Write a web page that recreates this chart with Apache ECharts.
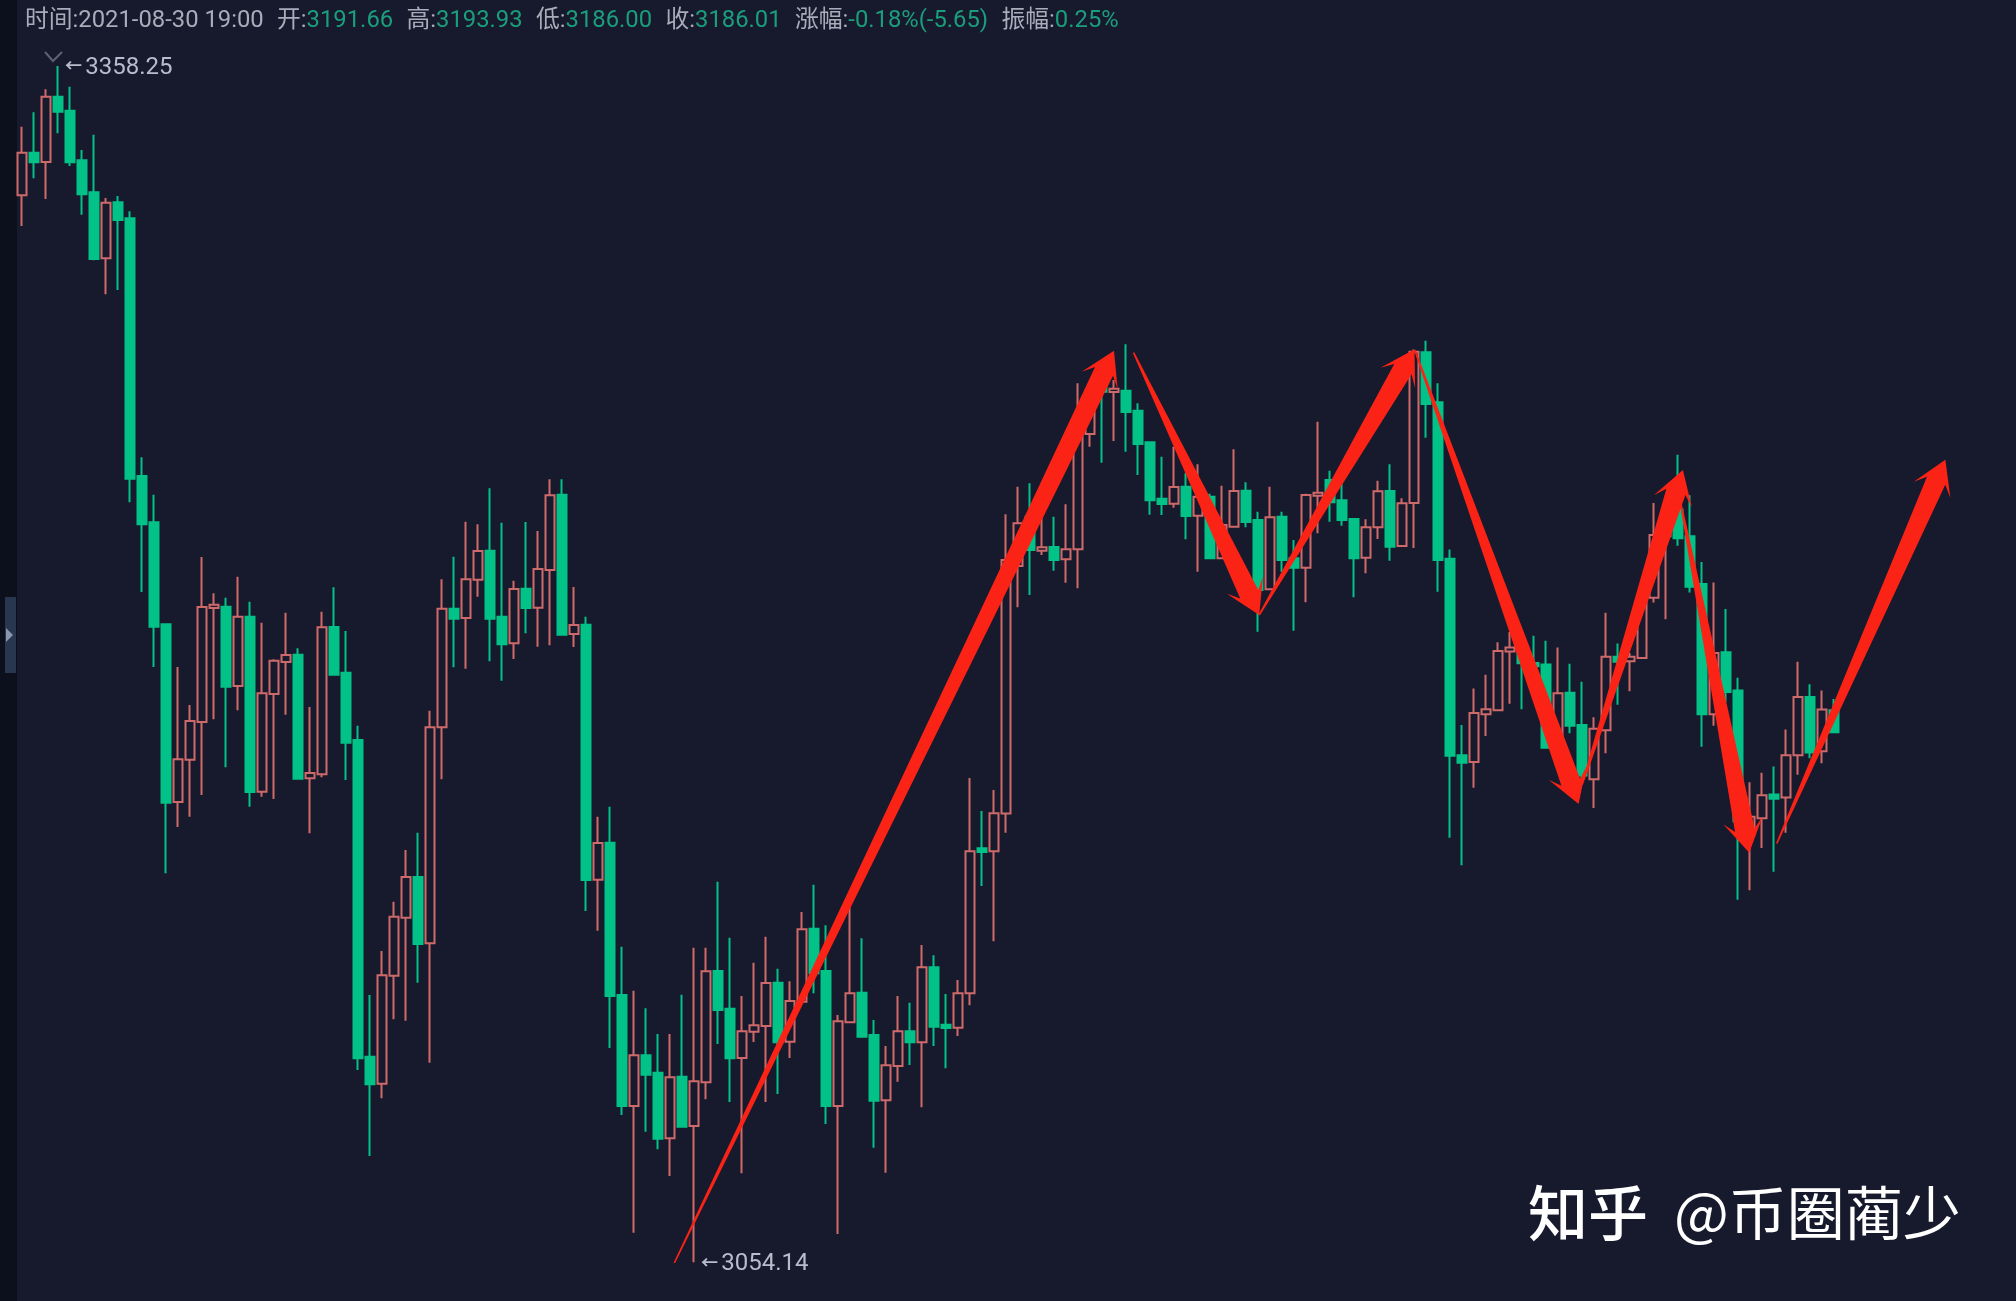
<!DOCTYPE html>
<html>
<head>
<meta charset="utf-8">
<title>K</title>
<style>
html, body { margin: 0; padding: 0; background: #171a2d; }
#main { width: 2016px; height: 1301px; }
</style>
<script src="https://cdn.jsdelivr.net/npm/echarts@6/dist/echarts.min.js"></script>
</head>
<body>
<div id="main"></div>
<script>
var opens = [
    3325.37, 3336.22, 3333.85, 3350.46, 3346.9, 3334.27, 3326.13, 3309.36, 3323.59, 3319.53,
    3254.02, 3242.25, 3216.31, 3171.15, 3181.91, 3191.49, 3220.47, 3220.81, 3200.64, 3218.26,
    3173.77, 3198.6, 3206.74, 3208.6, 3177.16, 3178.18, 3215.64, 3204.03, 3186.91, 3106.4,
    3099.54, 3127.0, 3141.74, 3152.08, 3135.22, 3190.13, 3220.3, 3217.92, 3227.67, 3235.04,
    3218.26, 3211.48, 3225.38, 3220.55, 3230.13, 3249.28, 3213.86, 3216.23, 3151.4, 3160.81,
    3122.08, 3093.86, 3106.74, 3102.34, 3085.64, 3101.32, 3088.78, 3099.88, 3128.18, 3118.61,
    3106.07, 3112.76, 3114.2, 3125.22, 3110.22, 3120.39, 3138.95, 3128.18, 3093.86, 3115.14,
    3122.68, 3111.91, 3095.3, 3104.03, 3112.85, 3110.05, 3129.12, 3114.54, 3113.78, 3122.51,
    3159.37, 3158.61, 3168.2, 3231.15, 3243.69, 3235.04, 3235.98, 3232.84, 3235.38, 3264.7,
    3276.74, 3275.38, 3275.72, 3270.63, 3262.58, 3248.26, 3246.99, 3251.31, 3243.94, 3248.77,
    3233.09, 3241.14, 3250.29, 3242.84, 3225.21, 3243.68, 3233.09, 3230.72, 3249.02, 3253.0,
    3247.84, 3243.09, 3233.26, 3240.97, 3250.21, 3236.23, 3247.16, 3285.46, 3272.75, 3233.0,
    3183.06, 3181.31, 3193.47, 3194.44, 3209.43, 3210.01, 3206.51, 3206.12, 3187.63, 3198.92,
    3190.75, 3176.93, 3189.38, 3208.06, 3206.9, 3207.77, 3223.05, 3238.71, 3245.52, 3238.71,
    3226.55, 3193.47, 3209.23, 3199.5, 3162.82, 3167.01, 3173.04, 3172.26, 3183.06, 3197.85,
    3184.03, 3194.44
];
var closes = [
    3336.22, 3333.76, 3350.46, 3346.64, 3333.76, 3325.63, 3309.19, 3323.51, 3319.1, 3253.35,
    3241.74, 3215.72, 3170.98, 3181.99, 3191.74, 3220.72, 3221.31, 3200.47, 3218.26, 3173.69,
    3198.77, 3207.08, 3208.52, 3177.08, 3178.52, 3215.55, 3203.52, 3186.23, 3105.98, 3099.37,
    3127.08, 3142.0, 3152.08, 3135.05, 3190.13, 3220.3, 3217.76, 3227.75, 3234.96, 3217.76,
    3211.23, 3225.3, 3220.47, 3230.38, 3249.11, 3213.69, 3216.15, 3151.32, 3160.7, 3121.83,
    3093.86, 3106.74, 3101.83, 3085.56, 3101.15, 3088.61, 3100.14, 3128.1, 3118.27, 3105.98,
    3112.85, 3114.37, 3125.13, 3110.05, 3120.56, 3138.78, 3127.59, 3093.86, 3115.39, 3122.51,
    3111.49, 3095.22, 3104.2, 3112.85, 3110.05, 3129.12, 3114.03, 3113.69, 3122.51, 3158.61,
    3158.44, 3168.27, 3232.67, 3241.99, 3235.21, 3235.89, 3232.67, 3235.38, 3264.87, 3272.5,
    3275.47, 3276.23, 3270.3, 3262.16, 3247.84, 3246.91, 3251.23, 3243.85, 3248.77, 3233.09,
    3241.57, 3250.21, 3242.33, 3225.04, 3243.51, 3232.67, 3230.72, 3249.19, 3249.78, 3247.33,
    3242.84, 3233.09, 3240.97, 3250.12, 3236.06, 3247.07, 3285.63, 3272.33, 3232.67, 3182.9,
    3181.12, 3193.76, 3194.74, 3209.52, 3210.4, 3206.41, 3205.63, 3184.91, 3198.82, 3190.55,
    3177.9, 3189.77, 3208.06, 3206.8, 3208.06, 3222.66, 3239.0, 3245.03, 3238.22, 3225.87,
    3193.47, 3209.04, 3199.11, 3166.23, 3167.4, 3172.85, 3171.97, 3183.06, 3197.85, 3183.74,
    3194.64, 3188.9
];
var lows = [
    3317.58, 3329.69, 3324.44, 3341.13, 3332.83, 3320.46, 3308.9, 3300.2, 3301.31, 3247.33,
    3224.53, 3205.47, 3153.01, 3164.79, 3167.42, 3172.93, 3192.16, 3179.96, 3194.45, 3169.96,
    3172.5, 3171.91, 3193.35, 3177.0, 3163.18, 3177.42, 3203.4, 3176.74, 3103.02, 3081.15,
    3095.81, 3115.9, 3115.56, 3125.22, 3104.88, 3176.91, 3205.38, 3205.04, 3223.35, 3206.91,
    3201.99, 3207.5, 3214.03, 3210.64, 3210.98, 3213.6, 3210.55, 3143.44, 3138.44, 3108.61,
    3091.58, 3061.66, 3087.34, 3082.85, 3076.07, 3088.5, 3054.14, 3095.56, 3109.63, 3094.88,
    3076.75, 3110.13, 3094.88, 3096.91, 3106.07, 3120.3, 3122.51, 3089.29, 3061.32, 3115.1,
    3111.4, 3083.27, 3076.92, 3100.05, 3104.29, 3093.53, 3109.12, 3103.44, 3111.66, 3119.46,
    3149.79, 3135.73, 3163.35, 3220.64, 3223.77, 3233.94, 3229.96, 3226.91, 3225.47, 3261.48,
    3257.42, 3262.92, 3260.21, 3254.28, 3244.2, 3244.11, 3245.98, 3237.92, 3229.7, 3233.0,
    3233.0, 3241.0, 3240.97, 3214.45, 3225.1, 3229.7, 3214.7, 3221.9, 3239.45, 3242.41,
    3241.4, 3223.18, 3229.28, 3238.01, 3232.5, 3236.1, 3235.72, 3263.77, 3224.62, 3162.05,
    3155.04, 3174.79, 3187.93, 3194.3, 3196.1, 3194.74, 3200.28, 3184.8, 3182, 3188.61,
    3175.47, 3169.64, 3183.55, 3195.9, 3199.31, 3207.6, 3221.88, 3217.6, 3236.28, 3224.41,
    3185.2, 3190.55, 3196.58, 3146.29, 3148.72, 3159.42, 3153.39, 3163.31, 3178.1, 3182.28,
    3181.02, 3188.8
];
var highs = [
    3342.83, 3346.47, 3352.32, 3358.25, 3353.0, 3336.9, 3340.8, 3324.69, 3325.2, 3321.3,
    3258.77, 3249.28, 3216.31, 3205.47, 3195.81, 3233.43, 3224.2, 3223.09, 3228.43, 3222.08,
    3216.74, 3207.42, 3219.28, 3210.21, 3195.3, 3219.53, 3225.72, 3214.62, 3190.55, 3122.08,
    3133.27, 3145.81, 3158.94, 3163.35, 3194.36, 3227.75, 3233.52, 3242.41, 3241.74, 3250.89,
    3242.16, 3227.41, 3242.33, 3240.04, 3253.18, 3253.18, 3225.81, 3218.26, 3167.42, 3169.96,
    3134.37, 3123.18, 3118.69, 3112.17, 3112.17, 3122.17, 3134.12, 3134.12, 3150.89, 3136.66,
    3121.83, 3130.3, 3136.91, 3128.78, 3125.56, 3143.18, 3150.13, 3139.79, 3117.0, 3146.23,
    3136.49, 3115.73, 3109.12, 3121.83, 3120.13, 3134.79, 3132.17, 3122.34, 3125.9, 3177.25,
    3168.86, 3174.2, 3244.28, 3251.31, 3252.16, 3243.69, 3243.69, 3246.82, 3277.58, 3275.89,
    3280.13, 3278.43, 3287.5, 3272.5, 3262.7, 3258.94, 3261.48, 3254.7, 3256.99, 3249.5,
    3251.56, 3260.8, 3252.41, 3244.95, 3251.31, 3244.95, 3237.75, 3249.5, 3267.83, 3255.38,
    3253.0, 3243.2, 3243.0, 3252.83, 3256.99, 3248.34, 3286.2, 3288.43, 3277.58, 3235.35,
    3190.75, 3199.99, 3203.49, 3211.76, 3214.39, 3211.0, 3213.42, 3212.15, 3210.4, 3206.31,
    3201.74, 3192.69, 3219.25, 3211.47, 3209.04, 3224, 3247.18, 3246.98, 3259.43, 3249.12,
    3232.19, 3226.94, 3220.23, 3202.71, 3176.15, 3178.58, 3180.14, 3189.58, 3206.8, 3201.06,
    3199.5, 3197.36
];
// hand drawn arrows: from bar, from price, to bar, to price
var arrows = [
    [54.36, 3053.95, 91.0, 3285.87],
    [92.63, 3285.37, 103.1, 3218.69],
    [103.1, 3218.69, 116.04, 3286.23],
    [116.08, 3285.9, 129.72, 3170.64],
    [130.0, 3175.47, 138.41, 3255.55],
    [138.17, 3247.92, 143.94, 3158.25],
    [146.23, 3160.59, 160.28, 3258.17]
];
var highBar = 3, highPrice = 3358.25;
var lowBar = 56, lowPrice = 3054.14;
var headerItems = [
    ['时间:', '2021-08-30 19:00', 'g'],
    ['开:', '3191.66', 'v'],
    ['高:', '3193.93', 'v'],
    ['低:', '3186.00', 'v'],
    ['收:', '3186.01', 'v'],
    ['涨幅:', '-0.18%(-5.65)', 'v'],
    ['振幅:', '0.25%', 'v']
];

var barCount = 166;
var categories = [];
for (var i = 0; i < barCount; i++) {
    categories.push(String(i));
}
var klines = opens.map(function (o, i) {
    return [o, closes[i], lows[i], highs[i]];
});

var upColor = '#cf6a6b';
var downColor = '#03c288';
var arrowColor = '#fb2315';
var labelColor = '#b9bcca';

// tapered arrow, thin at the tail
function renderArrow(params, api) {
    var a = api.coord([api.value(0), api.value(1)]);
    var b = api.coord([api.value(2), api.value(3)]);
    var dx = b[0] - a[0], dy = b[1] - a[1];
    var len = Math.sqrt(dx * dx + dy * dy);
    var ux = dx / len, uy = dy / len;
    var nx = -uy, ny = ux;
    function at(along, side) {
        return [b[0] + ux * along + nx * side, b[1] + uy * along + ny * side];
    }
    var back = -len;
    return {
        type: 'polygon',
        shape: {
            points: [
                at(back, -0.8), at(-23, -10), at(-33, -20), at(0, 0),
                at(-33, 20), at(-23, 10), at(back, 0.8)
            ]
        },
        style: { fill: arrowColor }
    };
}

var headerFont = 'Roboto, "Noto Sans CJK SC"';
var headerText = headerItems.map(function (h) {
    return '{k|' + h[0] + '}{' + h[2] + '|' + h[1] + '}';
}).join('{s|  }');

var dom = document.getElementById('main');
var myChart = echarts.init(dom);
var option = {
    animation: false,
    backgroundColor: '#171a2d',
    title: {
        left: 25,
        top: 8,
        padding: 0,
        text: headerText,
        textStyle: {
            fontWeight: 'normal',
            rich: {
                k: { color: '#a9acb9', fontSize: 23.8, fontWeight: 'normal', fontFamily: headerFont },
                g: { color: '#a9acb9', fontSize: 23.8, fontWeight: 'normal', fontFamily: headerFont },
                v: { color: '#1b9e7c', fontSize: 23.8, fontWeight: 'normal', fontFamily: headerFont },
                s: { color: '#a9acb9', fontSize: 27, fontWeight: 'normal', fontFamily: headerFont }
            }
        }
    },
    grid: { left: 16, top: 0, width: 1992, height: 1301 },
    xAxis: [
        { type: 'category', data: categories, show: false },
        { type: 'value', min: -0.5, max: barCount - 0.5, show: false }
    ],
    yAxis: { type: 'value', min: 3044.29, max: 3375.03, show: false },
    series: [{
        name: 'K',
        type: 'candlestick',
        data: klines,
        barWidth: 9,
        itemStyle: {
            color: 'transparent',
            color0: downColor,
            borderColor: upColor,
            borderColor0: downColor,
            borderWidth: 2
        },
        markPoint: {
            symbol: 'circle',
            symbolSize: 0,
            label: {
                show: true,
                position: 'right',
                distance: 7,
                offset: [0, 2],
                formatter: '{a|←} {b|{c}}',
                rich: {
                    a: { color: labelColor, fontSize: 17, fontWeight: 'bold', fontFamily: 'Roboto, "Noto Sans CJK SC"' },
                    b: { color: labelColor, fontSize: 24, fontFamily: 'Roboto' }
                }
            },
            data: [
                { coord: [highBar, highPrice], value: highPrice.toFixed(2) },
                { coord: [lowBar, lowPrice], value: lowPrice.toFixed(2) }
            ]
        }
    }, {
        type: 'custom',
        xAxisIndex: 1,
        renderItem: renderArrow,
        encode: { x: [0, 2], y: [1, 3] },
        data: arrows,
        clip: false,
        z: 5
    }],
    graphic: [
        { type: 'rect', left: 0, top: 0, shape: { width: 17, height: 1301 }, style: { fill: '#0c0f1c' }, z: 1 },
        { type: 'rect', left: 5, top: 597, shape: { width: 11, height: 76 }, style: { fill: '#29364f' }, z: 2 },
        { type: 'polygon', shape: { points: [[6, 628], [13, 635], [6, 642]] }, style: { fill: '#8995ad' }, z: 3 },
        { type: 'polyline', shape: { points: [[45, 52], [53, 61], [62, 52]] }, style: { stroke: '#5e6172', lineWidth: 2, fill: null }, z: 3 },
        {
            type: 'text', left: 1528, top: 1183, z: 10,
            style: {
                text: '知乎', fill: '#ffffff', fontSize: 60, fontWeight: 500,
                fontFamily: '"Noto Sans CJK SC"',
                shadowColor: 'rgba(0,0,0,0.6)', shadowBlur: 4, shadowOffsetX: 2, shadowOffsetY: 2
            }
        },
        {
            type: 'text', left: 1674, top: 1184, z: 10,
            style: {
                text: '@币圈蔺少', fill: '#ffffff', fontSize: 58,
                fontFamily: '"Noto Sans CJK SC"',
                shadowColor: 'rgba(0,0,0,0.6)', shadowBlur: 4, shadowOffsetX: 2, shadowOffsetY: 2
            }
        }
    ]
};
if (option && typeof option === 'object') {
    myChart.setOption(option, true);
}
</script>
</body>
</html>
